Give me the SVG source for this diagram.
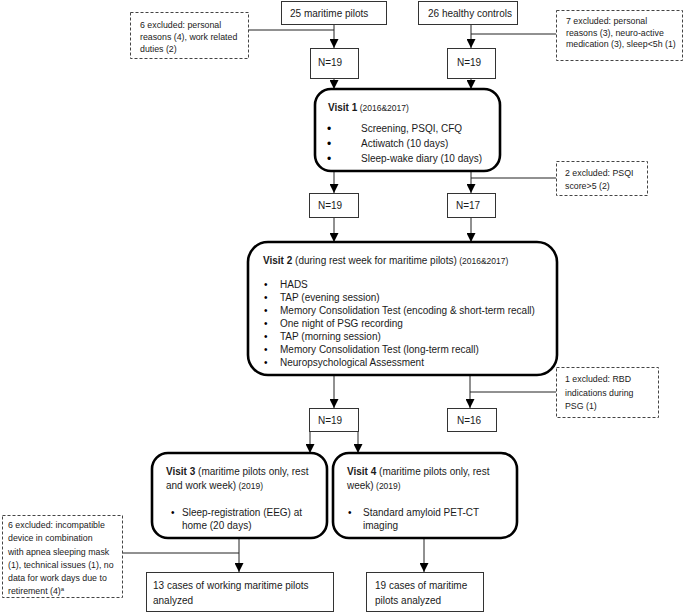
<svg xmlns="http://www.w3.org/2000/svg" width="685" height="613" viewBox="0 0 685 613">
<style>
text{font-family:"Liberation Sans",Arial,sans-serif;font-size:10px;fill:#1a1a1a}
.sm{font-size:8.8px}
.yr{font-size:8.5px}
.b{font-weight:bold}
.bl{font-size:12px;fill:#000}
.bs{fill:#000}
.box{fill:#fff;stroke:#333;stroke-width:1}
.vis{fill:#fff;stroke:#000;stroke-width:2.6}
.dash{fill:#fff;stroke:#444;stroke-width:1;stroke-dasharray:3,2}
.c{fill:none;stroke:#222;stroke-width:1}
.a{fill:none;stroke:#222;stroke-width:1;marker-end:url(#ah)}
</style>
<defs>
<marker id="ah" markerUnits="userSpaceOnUse" markerWidth="9" markerHeight="9" refX="9" refY="4.5" orient="auto">
<path d="M0,0 L9,4.5 L0,9 z" fill="#000"/>
</marker>
</defs>
<rect width="685" height="613" fill="#fff"/>

<g id="connectors">
<line class="a" x1="334" y1="24" x2="334" y2="48"/>
<line class="c" x1="248" y1="30" x2="334" y2="30"/>
<line class="a" x1="471" y1="24" x2="471" y2="48"/>
<line class="c" x1="556" y1="34" x2="471" y2="34"/>
<line class="a" x1="334" y1="78" x2="334" y2="89"/>
<line class="a" x1="471" y1="78" x2="471" y2="89"/>
<line class="a" x1="334" y1="171" x2="334" y2="193"/>
<line class="a" x1="471" y1="171" x2="471" y2="193"/>
<line class="c" x1="556" y1="178" x2="471" y2="178"/>
<line class="a" x1="334" y1="217" x2="334" y2="242"/>
<line class="a" x1="471" y1="217" x2="471" y2="242"/>
<line class="a" x1="334" y1="375" x2="334" y2="408"/>
<line class="a" x1="470" y1="375" x2="470" y2="408"/>
<line class="c" x1="556" y1="392" x2="470" y2="392"/>
<line class="a" x1="310" y1="431" x2="310" y2="453"/>
<line class="a" x1="358" y1="431" x2="358" y2="453"/>
<line class="a" x1="239" y1="538" x2="239" y2="572"/>
<line class="c" x1="122" y1="553" x2="239" y2="553"/>
<line class="a" x1="424" y1="538" x2="424" y2="572"/>
</g>

<g id="pilots">
<rect class="box" x="281.5" y="1.5" width="105" height="23"/>
<text x="290" y="17">25 maritime pilots</text>
</g>
<g id="controls">
<rect class="box" x="418.5" y="1.5" width="99" height="23"/>
<text x="428" y="17">26 healthy controls</text>
</g>
<g id="excl-pilots">
<rect class="dash" x="130.5" y="12.5" width="118" height="46"/>
<text class="sm" x="140" y="28">6 excluded: personal</text>
<text class="sm" x="140" y="40">reasons (4), work related</text>
<text class="sm" x="140" y="52">duties (2)</text>
</g>
<g id="excl-controls">
<rect class="dash" x="556.5" y="10.5" width="126" height="50"/>
<text class="sm" x="566" y="24">7 excluded: personal</text>
<text class="sm" x="566" y="35.5">reasons (3), neuro-active</text>
<text class="sm" x="566" y="47">medication (3), sleep&lt;5h (1)</text>
</g>
<g id="n1a">
<rect class="box" x="310.5" y="48.5" width="48" height="30"/>
<text x="318" y="66">N=19</text>
</g>
<g id="n1b">
<rect class="box" x="447.5" y="48.5" width="48" height="30"/>
<text x="457" y="66">N=19</text>
</g>

<g id="visit1">
<rect class="vis" x="315" y="89" width="185" height="82" rx="16"/>
<text x="328" y="111"><tspan class="b">Visit 1</tspan><tspan class="yr"> (2016&amp;2017)</tspan></text>
<text class="bl" x="327" y="133">•</text><text x="361" y="132">Screening, PSQI, CFQ</text>
<text class="bl" x="327" y="148">•</text><text x="361" y="147">Actiwatch (10 days)</text>
<text class="bl" x="327" y="163">•</text><text x="361" y="162">Sleep-wake diary (10 days)</text>
</g>

<g id="excl-psqi">
<rect class="dash" x="556.5" y="161.5" width="91" height="34"/>
<text class="sm" x="565" y="176">2 excluded: PSQI</text>
<text class="sm" x="565" y="188.5">score&gt;5 (2)</text>
</g>
<g id="n2a">
<rect class="box" x="309.5" y="193.5" width="49" height="24"/>
<text x="318" y="209">N=19</text>
</g>
<g id="n2b">
<rect class="box" x="447.5" y="193.5" width="48" height="24"/>
<text x="456" y="209">N=17</text>
</g>

<g id="visit2">
<rect class="vis" x="248" y="242" width="309" height="133" rx="20"/>
<text x="263" y="264"><tspan class="b">Visit 2</tspan> (during rest week for maritime pilots)<tspan class="yr"> (2016&amp;2017)</tspan></text>
<g>
<text class="bs" x="264" y="288">•</text><text x="280" y="288">HADS</text>
<text class="bs" x="264" y="301">•</text><text x="280" y="301">TAP (evening session)</text>
<text class="bs" x="264" y="314">•</text><text x="280" y="314">Memory Consolidation Test (encoding &amp; short-term recall)</text>
<text class="bs" x="264" y="327">•</text><text x="280" y="327">One night of PSG recording</text>
<text class="bs" x="264" y="340">•</text><text x="280" y="340">TAP (morning session)</text>
<text class="bs" x="264" y="353">•</text><text x="280" y="353">Memory Consolidation Test (long-term recall)</text>
<text class="bs" x="264" y="366">•</text><text x="280" y="366">Neuropsychological Assessment</text>
</g>
</g>

<g id="excl-rbd">
<rect class="dash" x="556.5" y="367.5" width="102" height="50"/>
<text class="sm" x="565" y="382">1 excluded: RBD</text>
<text class="sm" x="565" y="395.5">indications during</text>
<text class="sm" x="565" y="409">PSG (1)</text>
</g>
<g id="n3a">
<rect class="box" x="309.5" y="408.5" width="49" height="23"/>
<text x="318" y="424">N=19</text>
</g>
<g id="n3b">
<rect class="box" x="447.5" y="408.5" width="49" height="23"/>
<text x="457" y="424">N=16</text>
</g>

<g id="visit3">
<rect class="vis" x="152" y="453" width="175" height="85" rx="16"/>
<text x="166" y="475"><tspan class="b">Visit 3</tspan> (maritime pilots only, rest</text>
<text x="166" y="489">and work week)<tspan class="yr"> (2019)</tspan></text>
<text class="bs" x="171" y="516">•</text><text x="182" y="516">Sleep-registration (EEG) at</text>
<text x="182" y="529">home (20 days)</text>
</g>
<g id="visit4">
<rect class="vis" x="333" y="453" width="184" height="85" rx="16"/>
<text x="347" y="475"><tspan class="b">Visit 4</tspan> (maritime pilots only, rest</text>
<text x="347" y="489">week)<tspan class="yr"> (2019)</tspan></text>
<text class="bs" x="348" y="516">•</text><text x="363" y="516">Standard amyloid PET-CT</text>
<text x="363" y="529">imaging</text>
</g>

<g id="excl-eeg">
<rect class="dash" x="2.5" y="515.5" width="120" height="82"/>
<text class="sm" x="8" y="528">6 excluded: incompatible</text>
<text class="sm" x="8" y="541">device in combination</text>
<text class="sm" x="8" y="554.5">with apnea sleeping mask</text>
<text class="sm" x="8" y="567.5">(1), technical issues (1), no</text>
<text class="sm" x="8" y="581">data for work days due to</text>
<text class="sm" x="8" y="594">retirement (4)<tspan font-size="6" dy="-3">a</tspan></text>
</g>
<g id="result-eeg">
<rect class="box" x="146.5" y="572.5" width="187" height="39"/>
<text x="153" y="589">13 cases of working maritime pilots</text>
<text x="153" y="604">analyzed</text>
</g>
<g id="result-pet">
<rect class="box" x="366.5" y="572.5" width="117" height="39"/>
<text x="375" y="589">19 cases of maritime</text>
<text x="375" y="604">pilots analyzed</text>
</g>
</svg>
